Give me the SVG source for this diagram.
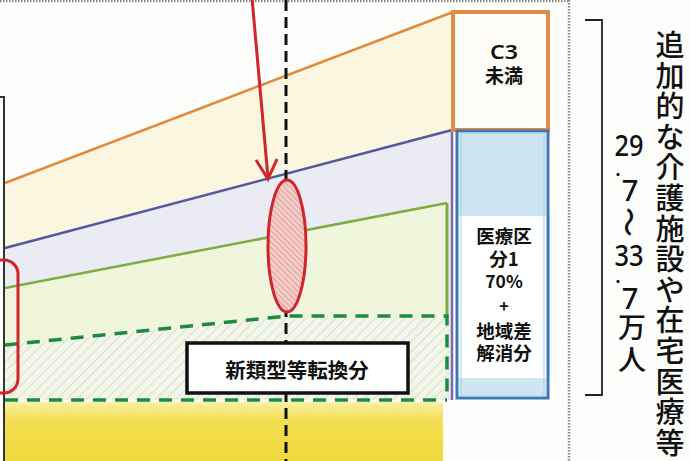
<svg xmlns="http://www.w3.org/2000/svg" width="691" height="461" viewBox="0 0 691 461">
<style>
.jp{font-family:"Noto Sans CJK JP","Noto Sans",sans-serif;fill:#111;text-anchor:middle}
.b{font-weight:700}
.m{font-weight:500}
.num{font-family:"Noto Sans","Liberation Sans",sans-serif;fill:#111;text-anchor:middle}
.dash{fill:none;stroke:#1f8a3c;stroke-width:3.5;stroke-dasharray:13 9}
.red{fill:none;stroke:#d2242b;stroke-width:3}
.dot{fill:none;stroke:#8a8a8a;stroke-width:2.5;stroke-dasharray:1.5 1.5}
</style>
<defs>
<pattern id="hatch" width="7" height="7" patternUnits="userSpaceOnUse" patternTransform="rotate(45)">
<rect width="7" height="7" fill="#f2f6e8"/>
<line x1="0" y1="0" x2="0" y2="7" stroke="#c9cfc2" stroke-width="1.2"/>
</pattern>
<pattern id="redhatch" width="4" height="4" patternUnits="userSpaceOnUse" patternTransform="rotate(-45)">
<rect width="4" height="4" fill="#f3cfc9"/>
<line x1="0" y1="0" x2="0" y2="4" stroke="#d8676a" stroke-width="1"/>
</pattern>
<linearGradient id="yel" x1="0" y1="0" x2="0" y2="1">
<stop offset="0" stop-color="#f8f0a8"/>
<stop offset="0.3" stop-color="#f3df52"/>
<stop offset="1" stop-color="#f1d83c"/>
</linearGradient>
</defs>
<rect width="691" height="461" fill="#fdfdfb"/>

<g id="bands">
<polygon points="5,183 453,12 453,130 452,130 5,248" fill="#fbf6df"/>
<polygon points="5,248 452,130 452,400 447,400 447,203 5,288" fill="#ebebf3"/>
<polygon points="5,288 447,203 447,316 287,316 5,345" fill="#eff6dc"/>
<polygon points="5,345 287,316 447,316 447,400 5,400" fill="url(#hatch)"/>
<rect x="5" y="402" width="438" height="59" fill="url(#yel)"/>
<line x1="5" y1="183" x2="453" y2="12" stroke="#e08a3e" stroke-width="2.5"/>
<line x1="5" y1="248" x2="452" y2="130" stroke="#56589f" stroke-width="2.5"/>
<line x1="452" y1="130" x2="452" y2="400" stroke="#7c6aa8" stroke-width="2.5"/>
<line x1="5" y1="288" x2="447" y2="203" stroke="#7fac45" stroke-width="2.5"/>
<line x1="447" y1="203" x2="447" y2="316" stroke="#7fac45" stroke-width="3"/>
<path class="dash" d="M5,345 L287,316 L447,316 L447,400"/>
<path class="dash" d="M5,400 L447,400" stroke-width="3"/>
</g>

<g id="frame">
<path d="M0,97 H4 V461" fill="none" stroke="#333" stroke-width="2"/>
<line class="dot" x1="0" y1="1" x2="569" y2="1"/>
<line class="dot" x1="569" y1="0" x2="569" y2="461"/>
<line x1="286" y1="0" x2="286" y2="461" stroke="#111" stroke-width="3" stroke-dasharray="11 6"/>
</g>

<g id="c3-box">
<rect x="453" y="12" width="95" height="118" fill="#fdfcf6" stroke="#e38b45" stroke-width="4"/>
<text class="num" x="504" y="59" font-size="19" font-weight="600" textLength="28" lengthAdjust="spacingAndGlyphs">C3</text>
<text class="jp b" x="504" y="83" font-size="19">未満</text>
</g>

<g id="iryo-box">
<rect x="457" y="131" width="91" height="267" fill="#fff" stroke="#3c78b8" stroke-width="3"/>
<rect x="459" y="133" width="87" height="83" fill="#cde4f2"/>
<rect x="459" y="378" width="87" height="18" fill="#d0e5f2"/>
<rect x="461" y="133" width="83" height="263" fill="none" stroke="#a9cde7" stroke-width="1"/>
<text class="jp b" x="504" y="243" font-size="18.5">医療区</text>
<text class="jp b" x="504" y="266" font-size="18.5">分1</text>
<text class="jp b" x="504" y="288" font-size="17.5">70%</text>
<text class="jp b" x="504" y="312" font-size="16">+</text>
<text class="jp b" x="504" y="338" font-size="18.5">地域差</text>
<text class="jp b" x="504" y="360" font-size="18.5">解消分</text>
</g>

<g id="target-ellipse">
<ellipse cx="287" cy="246" rx="19" ry="66" fill="url(#redhatch)" stroke="#d2242b" stroke-width="3"/>
</g>

<g id="left-highlight">
<rect x="-25" y="260" width="43" height="133" rx="14" class="red" stroke-width="4"/>
</g>

<g id="conversion-box">
<rect x="187" y="343" width="221" height="50" fill="#fff" stroke="#111" stroke-width="3.5"/>
<text class="jp b" x="297" y="378" font-size="20.5">新類型等転換分</text>
</g>

<g id="connectors">
<line class="red" x1="252" y1="-2" x2="268" y2="178"/>
<path class="red" d="M256,160 L268,179 L277,159"/>
</g>

<g id="bracket">
<path d="M585,20 H602 V395 H585" fill="none" stroke="#222" stroke-width="1.8"/>
</g>

<g id="range-label">
<text class="num m" x="629" y="156" font-size="28" textLength="29" lengthAdjust="spacingAndGlyphs">29</text>
<text class="num m" x="618" y="176" font-size="22">.</text>
<text class="num m" x="630" y="201" font-size="29">7</text>
<text class="jp m" x="0" y="0" font-size="30" dominant-baseline="central" transform="translate(631,222) rotate(90)">～</text>
<text class="num m" x="629" y="266" font-size="28" textLength="29" lengthAdjust="spacingAndGlyphs">33</text>
<text class="num m" x="618" y="283" font-size="22">.</text>
<text class="num m" x="630" y="309" font-size="29">7</text>
<text class="jp m" x="632" y="338" font-size="28">万</text>
<text class="jp m" x="632" y="370" font-size="28">人</text>
</g>

<g id="care-label">
<text class="jp m" font-size="29" x="670 670 670 670 670 670 670 670 670 670 670 670 670 670" y="56 87 117 148 178 209 240 270 301 331 362 393 423 454">追加的な介護施設や在宅医療等</text>
</g>
</svg>
